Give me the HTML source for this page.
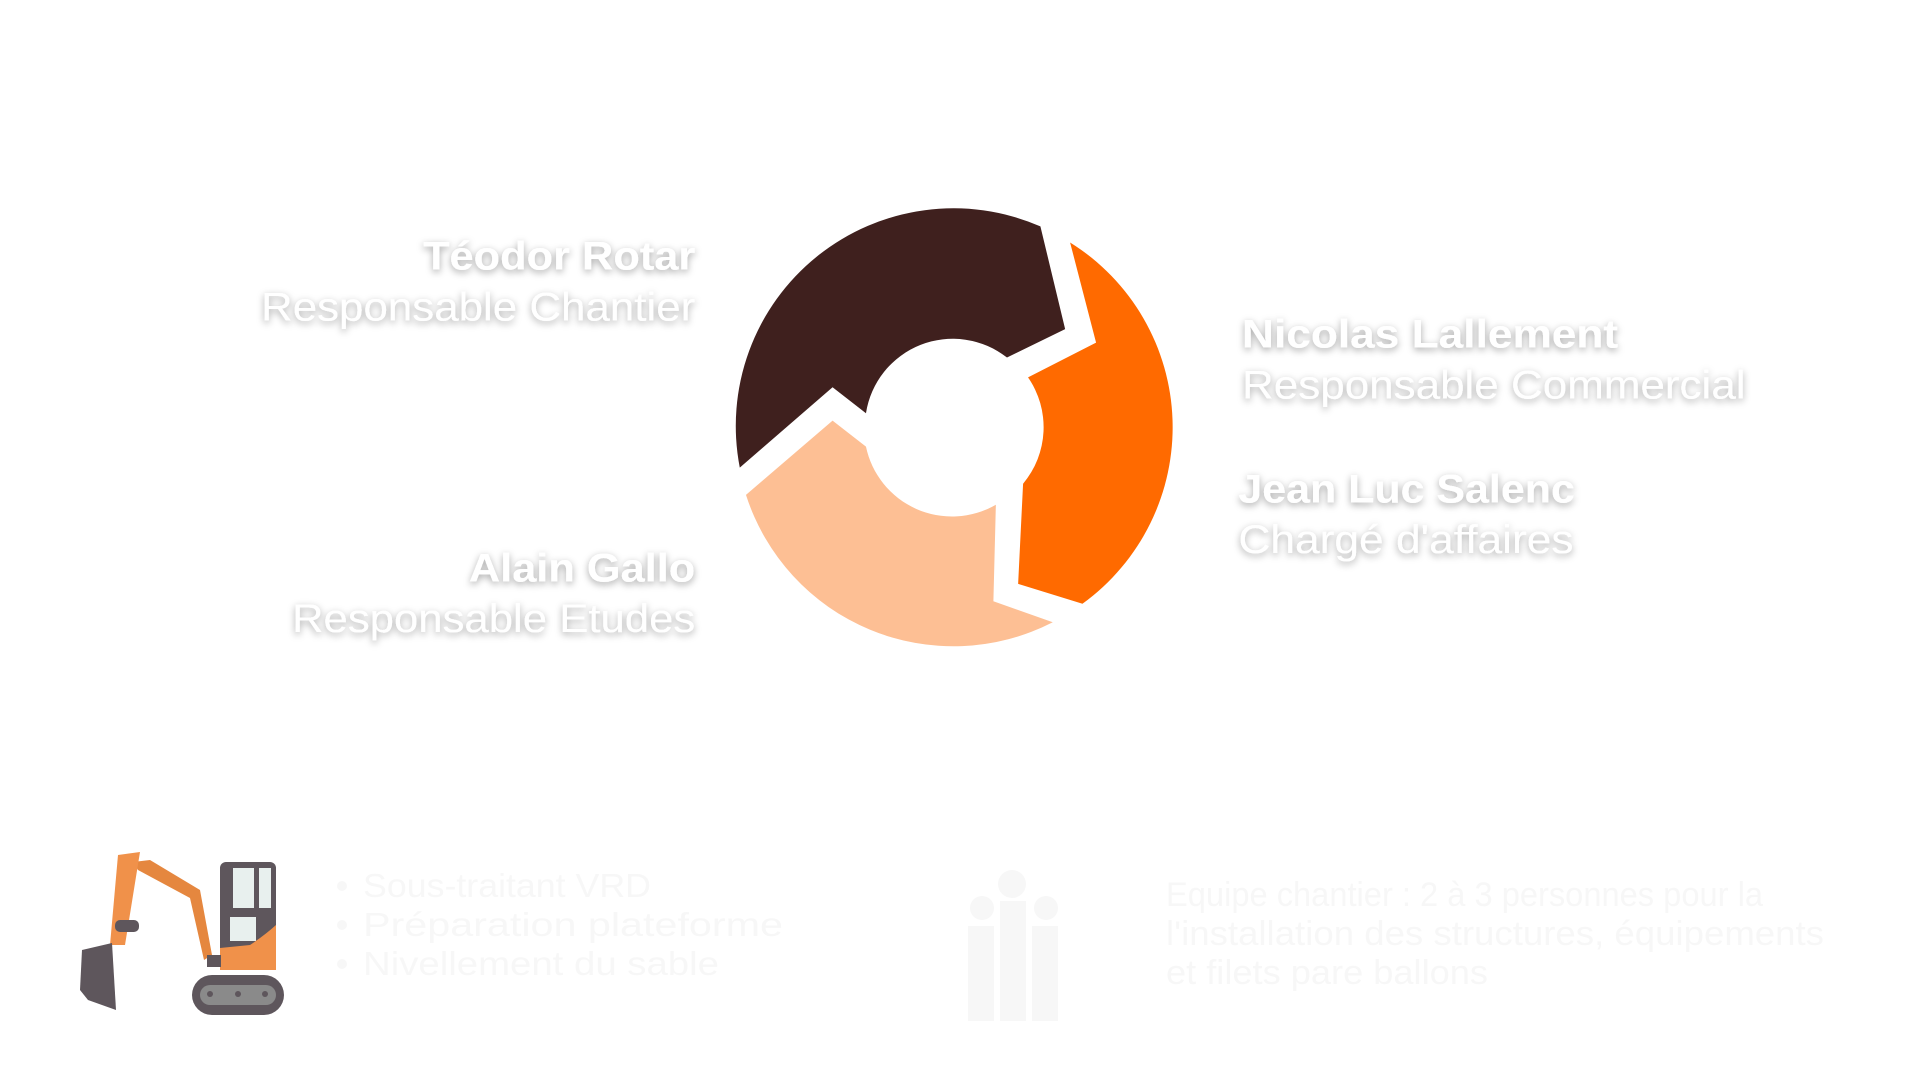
<!DOCTYPE html>
<html><head><meta charset="utf-8"><style>
html,body{margin:0;padding:0;background:#fff;}
svg{display:block}
.t{font-family:"Liberation Sans",sans-serif;fill:#fff;filter:url(#sh)}
</style></head><body>
<svg width="1920" height="1080" viewBox="0 0 1920 1080" xmlns="http://www.w3.org/2000/svg">
<defs><filter id="sh" x="-20%" y="-50%" width="140%" height="200%"><feDropShadow dx="0" dy="2" stdDeviation="3" flood-color="#000" flood-opacity="0.35"/></filter></defs>
<g transform="scale(1.2371)">
<g transform="translate(-7,-2)">
<path d="M605,380 A176,176 0 0 1 848,185 L868,268 L821,291 A71,71 0 0 0 707,336 L680,315 Z" fill="#3f201e"/>
<path d="M872,198 A176,176 0 0 1 882,490 L830,474 L834,393 A71,71 0 0 0 838,307 L893,279 Z" fill="#ff6a00"/>
<path d="M858,505 A176,176 0 0 1 610,402 L680,342 L707,363 A71,71 0 0 0 812,410 L810,488 Z" fill="#fdbf94"/>
</g>
<g class="t" font-size="32">
<text x="562" y="218" text-anchor="end" font-weight="bold" textLength="220" lengthAdjust="spacingAndGlyphs">Téodor Rotar</text>
<text x="562" y="259" text-anchor="end" textLength="351" lengthAdjust="spacingAndGlyphs">Responsable Chantier</text>
<text x="562" y="470" text-anchor="end" font-weight="bold" textLength="183" lengthAdjust="spacingAndGlyphs">Alain Gallo</text>
<text x="562" y="511" text-anchor="end" textLength="326" lengthAdjust="spacingAndGlyphs">Responsable Etudes</text>
<text x="1004" y="281" font-weight="bold" textLength="304" lengthAdjust="spacingAndGlyphs">Nicolas Lallement</text>
<text x="1004" y="322" textLength="407" lengthAdjust="spacingAndGlyphs">Responsable Commercial</text>
<text x="1001" y="406" font-weight="bold" textLength="272" lengthAdjust="spacingAndGlyphs">Jean Luc Salenc</text>
<text x="1001" y="447" textLength="271" lengthAdjust="spacingAndGlyphs">Chargé d'affaires</text>
</g>
</g>
<g font-family="Liberation Sans,sans-serif" fill="#f7f7f7" font-size="33">
<circle cx="342" cy="886" r="5"/><circle cx="342" cy="925" r="5"/><circle cx="342" cy="964" r="5"/>
<text x="363" y="897" textLength="288" lengthAdjust="spacingAndGlyphs">Sous-traitant VRD</text>
<text x="363" y="936" textLength="420" lengthAdjust="spacingAndGlyphs">Préparation plateforme</text>
<text x="363" y="975" textLength="356" lengthAdjust="spacingAndGlyphs">Nivellement du sable</text>
<text x="1166" y="906" font-size="34" textLength="597" lengthAdjust="spacingAndGlyphs">Equipe chantier : 2 à 3 personnes pour la</text>
<text x="1166" y="945" font-size="34" textLength="658" lengthAdjust="spacingAndGlyphs">l'installation des structures, équipements</text>
<text x="1166" y="984" font-size="34" textLength="322" lengthAdjust="spacingAndGlyphs">et filets pare ballons</text>
<circle cx="1012" cy="884" r="14"/><circle cx="982" cy="908" r="12"/><circle cx="1046" cy="908" r="12"/>
<rect x="1000" y="901" width="26" height="120"/><rect x="968" y="926" width="26" height="95"/><rect x="1032" y="926" width="26" height="95"/>
</g>
<g>
<rect x="220" y="862" width="56" height="108" rx="6" fill="#5e565c"/>
<rect x="233" y="868" width="21" height="40" fill="#e8f0ee"/><rect x="259" y="868" width="12" height="40" fill="#e8f0ee"/>
<rect x="230" y="917" width="26" height="24" fill="#e8f0ee"/>
<path d="M220,948 L250,945 Q265,935 276,925 L276,970 L220,970 Z" fill="#f0914a"/>
<rect x="192" y="975" width="92" height="40" rx="20" fill="#5e565c"/>
<rect x="200" y="985" width="76" height="20" rx="10" fill="#8a8a8a"/>
<circle cx="210" cy="994" r="3" fill="#5e565c"/><circle cx="238" cy="994" r="3" fill="#5e565c"/><circle cx="265" cy="994" r="3" fill="#5e565c"/>
<path d="M133,862 L150,860 L200,890 L212,955 L204,960 L190,898 L138,870 Z" fill="#e5873f"/>
<path d="M118,855 L140,852 L125,945 L110,945 Z" fill="#f0914a"/>
<rect x="115" y="920" width="24" height="12" rx="5" fill="#5e565c"/>
<path d="M82,950 L112,943 L116,1010 L88,1000 L80,990 Z" fill="#5e565c"/>
<rect x="207" y="955" width="14" height="12" fill="#5e565c"/>
</g>
</svg>
</body></html>
